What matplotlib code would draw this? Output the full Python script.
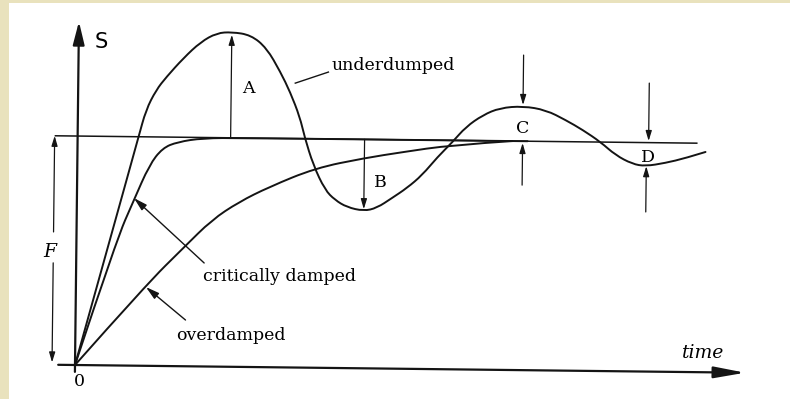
import matplotlib
matplotlib.use('Agg')
import matplotlib.pyplot as plt
from matplotlib.transforms import Affine2D
from matplotlib.path import Path
from matplotlib.patches import PathPatch

plt.rcParams['font.family'] = ['DejaVu Serif']

# response curves, time in arbitrary units, S relative to the final value F = 1
t_under = [0, 1.017, 1.133, 1.3, 1.467, 1.75, 2.033, 2.3, 2.55, 2.867, 3.133, 3.367,
           3.533, 3.7, 3.783, 3.933, 4.133, 4.3, 4.5, 4.783, 5.0, 5.25, 5.5, 5.75,
           6.0, 6.25, 6.467, 6.75, 7.033, 7.417, 7.8, 8.133, 8.417, 8.717, 8.967,
           9.25, 9.467, 9.8, 10.133, 10.467]
s_under = [0, 1.0, 1.117, 1.205, 1.262, 1.346, 1.417, 1.457, 1.462, 1.450, 1.394, 1.290,
           1.203, 1.094, 1.007, 0.885, 0.777, 0.734, 0.703, 0.687, 0.701, 0.745, 0.790, 0.847,
           0.926, 0.993, 1.059, 1.112, 1.144, 1.153, 1.137, 1.094, 1.052, 1.0, 0.944,
           0.906, 0.897, 0.912, 0.934, 0.962]

t_crit = [0, 0.667, 0.95, 1.2, 1.417, 1.667, 2.083, 2.75, 7.5]
s_crit = [0, 0.548, 0.723, 0.877, 0.952, 0.979, 0.997, 1.0, 1.0]

t_over = [0, 1.167, 1.8, 2.25, 2.7, 3.2, 3.967, 4.783, 5.417, 6.217, 7.25]
s_over = [0, 0.353, 0.521, 0.640, 0.720, 0.787, 0.872, 0.918, 0.946, 0.979, 1.0]

final_value = 1.0

fig = plt.figure(figsize=(7.9, 3.99), dpi=100, facecolor='#e9e2bd')
ax = fig.add_axes([9 / 790, 0, 781 / 790, 396 / 399])
ax.set_facecolor('white')
ax.set_xlim(-1.1, 11.917)
ax.set_ylim(-0.1485, 1.581)
ax.set_xticks([])
ax.set_yticks([])
for sp in ax.spines.values():
    sp.set_visible(False)

# the scan is turned a little, so everything is drawn slightly tilted
tr = ax.transData + Affine2D().rotate_deg_around(75, 34, -0.66)

ink = '#141414'


def curve(ts, ss):
    # hand drawn look: read points used as quadratic bezier controls
    pts = list(zip(ts, ss))
    verts = [pts[0]]
    codes = [Path.MOVETO]
    for i in range(1, len(pts) - 1):
        nxt = pts[i + 1]
        mid = ((pts[i][0] + nxt[0]) / 2, (pts[i][1] + nxt[1]) / 2)
        if i == len(pts) - 2:
            mid = nxt
        verts += [pts[i], mid]
        codes += [Path.CURVE3, Path.CURVE3]
    ax.add_patch(PathPatch(Path(verts, codes), fill=False, edgecolor=ink, lw=1.4,
                           transform=tr, capstyle='round', joinstyle='round'))


curve(t_under, s_under)
curve(t_crit, s_crit)
curve(t_over, s_over)
ax.plot([-0.37, 10.32], [final_value, final_value], color=ink, lw=1.1, transform=tr)


def arrow(start, end, lw=0.9, hl=0.6, hw=0.18, ms=10):
    ax.annotate('', xy=end, xytext=start, xycoords=tr, textcoords=tr,
                arrowprops=dict(arrowstyle='-|>,head_length=%g,head_width=%g' % (hl, hw),
                                color=ink, lw=lw, shrinkA=0, shrinkB=0,
                                mutation_scale=ms))


# axes
arrow((0, -0.03), (0, 1.5), lw=1.6, hl=1.4, hw=0.35)
arrow((-0.28, 0), (11.17, 0), lw=1.6, hl=1.9, hw=0.35)

# F
arrow((-0.383, 0.58), (-0.383, 1.0))
arrow((-0.383, 0.445), (-0.383, 0.01))

# A, B, C, D
arrow((2.55, 1.0), (2.55, 1.45))
arrow((4.783, 1.0), (4.783, 0.695))
arrow((7.417, 1.376), (7.417, 1.158))
arrow((7.417, 0.808), (7.417, 0.992))
arrow((9.517, 1.26), (9.517, 1.007))
arrow((9.483, 0.697), (9.483, 0.897))

# pointers to curves
ax.plot([3.617, 4.167], [1.242, 1.292], color=ink, lw=1.0, transform=tr)
arrow((2.133, 0.452), (0.95, 0.732), lw=1.0, hl=0.8, hw=0.22)
arrow((1.833, 0.202), (1.167, 0.344), lw=1.0, hl=0.8, hw=0.22)

fs = 12.5
ax.text(0.383, 1.412, 'S', fontsize=15, ha='center', va='center', transform=tr,
        family=['DejaVu Sans'])
ax.text(2.833, 1.218, 'A', fontsize=fs, ha='center', va='center', transform=tr)
ax.text(5.05, 0.814, 'B', fontsize=fs, ha='center', va='center', transform=tr)
ax.text(7.417, 1.057, 'C', fontsize=fs, ha='center', va='center', transform=tr)
ax.text(9.517, 0.937, 'D', fontsize=fs, ha='center', va='center', transform=tr)
ax.text(-0.45, 0.492, 'F', fontsize=fs + 1, style='italic', ha='center', va='center', transform=tr)
ax.text(0.083, -0.074, '0', fontsize=fs, ha='center', va='center', transform=tr)
ax.text(4.217, 1.319, 'underdumped', fontsize=fs, ha='left', va='center', transform=tr)
ax.text(2.117, 0.391, 'critically damped', fontsize=fs, ha='left', va='center', transform=tr)
ax.text(1.683, 0.136, 'overdamped', fontsize=fs, ha='left', va='center', transform=tr)
ax.text(10.117, 0.081, 'time', fontsize=fs + 1, style='italic', ha='left', va='center', transform=tr)

fig.savefig('out.png', dpi=100, facecolor=fig.get_facecolor())
